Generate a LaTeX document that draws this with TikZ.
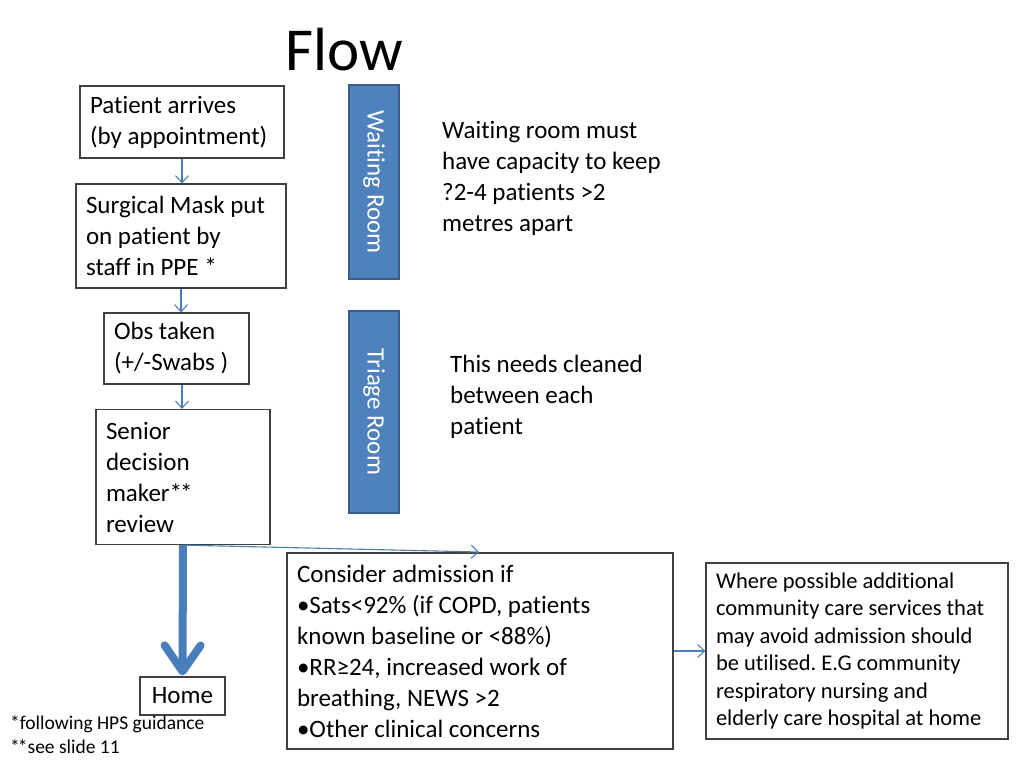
\documentclass[tikz,border=0pt]{standalone}
\usepackage{fontspec}
\setmainfont{Carlito}[Ligatures=NoCommon]
\frenchspacing
\usetikzlibrary{arrows.meta,positioning}
\definecolor{roomblue}  {RGB}{79,129,189}
\definecolor{roomedge}  {RGB}{56,93,138}
\definecolor{arrowblue} {RGB}{74,126,187}
\definecolor{boxedge}   {RGB}{64,64,64}
\tikzset{
  flowbox/.style={draw=boxedge, line width=1.2pt, align=flush left,
                  text width=#1, inner xsep=10pt, inner ysep=0pt,
                  font=\fontsize{25}{31}\selectfont},
  flowbox/.default=150pt,
  smallbox/.style={flowbox=#1, font=\fontsize{22.5}{27.5}\selectfont},
  roombar/.style={draw=roomedge, fill=roomblue, line width=2.2pt,
                  text=white, rotate=-90, minimum height=50pt,
                  inner sep=0pt, font=\fontsize{25}{31}\selectfont},
  note/.style   ={align=flush left, inner sep=0pt,
                  font=\fontsize{25}{31}\selectfont},
  footnote/.style={anchor=west, inner sep=0pt,
                  font=\fontsize{19.5}{23}\selectfont},
  thinarr/.style={-{Straight Barb[length=7pt,width=13pt]},
                  draw=arrowblue, line width=1.1pt},
  thickarr/.style={-{Straight Barb[length=26pt,width=36pt,round]},
                  draw=arrowblue, line width=8pt},
}
\newcommand{\twostars}{*\kern-2pt*}
\begin{document}
\begin{tikzpicture}[x=1pt,y=-1pt]
  \useasboundingbox[fill=white] (0,0) rectangle (1024,768);
  \node[font=\fontsize{61}{70}\selectfont] (title) at (344,50) {Flow};
  %% main flow
  \node[flowbox=184pt, minimum height=72pt] (arrive) at (182,122)
    {Patient arrives\\(by appointment)};
  \node[flowbox=190pt, minimum height=104pt] (mask) at (181,236)
    {Surgical Mask put\\on patient by\\staff in PPE *};
  \node[flowbox=125pt, minimum height=71pt] (obs) at (176.5,348.5)
    {Obs taken\\(+/-Swabs )};
  \node[flowbox=154pt, minimum height=135pt] (senior) at (183,477)
    {Senior\\decision\\maker\twostars\\review};
  \node[draw=boxedge, line width=1.2pt, minimum width=85pt,
        minimum height=38pt, inner sep=0pt,
        font=\fontsize{25}{31}\selectfont] (home) at (182.5,696) {Home};
  \node[flowbox=366pt, minimum height=196pt] (admit) at (480,651)
    {Consider admission if\\
     •Sats<92\% (if COPD, patients\\
     known baseline or <88\%)\\
     •RR≥24, increased work of\\
     breathing, NEWS >2\\
     •Other clinical concerns};
  \node[smallbox=282pt, minimum height=176pt] (community) at (857,651)
    {Where possible additional\\
     community care services that\\
     may avoid admission should\\
     be utilised. E.G community\\
     respiratory nursing and\\
     elderly care hospital at home};
  %% rooms
  \node[roombar, minimum width=194pt] (waiting) at (374,182) {Waiting Room};
  \node[roombar, minimum width=202pt] (triage) at (374,412) {Triage Room};
  \node[note, anchor=west] (capacity) at (442,178)
    {Waiting room must\\have capacity to keep\\?2-4 patients >2\\metres apart};
  \node[note, anchor=west] (cleaned) at (450,397)
    {This needs cleaned\\between each\\patient};
  \node[footnote] (fn1) at (10,724) {*following HPS guidance};
  \node[footnote] (fn2) at (10,747) {\twostars see slide 11};
  %% connectors
  \coordinate (admittop) at (479,552);
  \draw[thinarr] (arrive.south) -- (arrive.south |- mask.north);
  \draw[thinarr] (mask.south) -- (mask.south |- obs.north);
  \draw[thinarr] (obs.south -| arrive.south) -- (arrive.south |- senior.north);
  \draw[thinarr] (senior.south) -- (admittop);
  \draw[thickarr, shorten >=1pt] (senior.south) -- (home.north);
  \draw[thinarr] (admit.east) -- (community.west);
\end{tikzpicture}
\end{document}
